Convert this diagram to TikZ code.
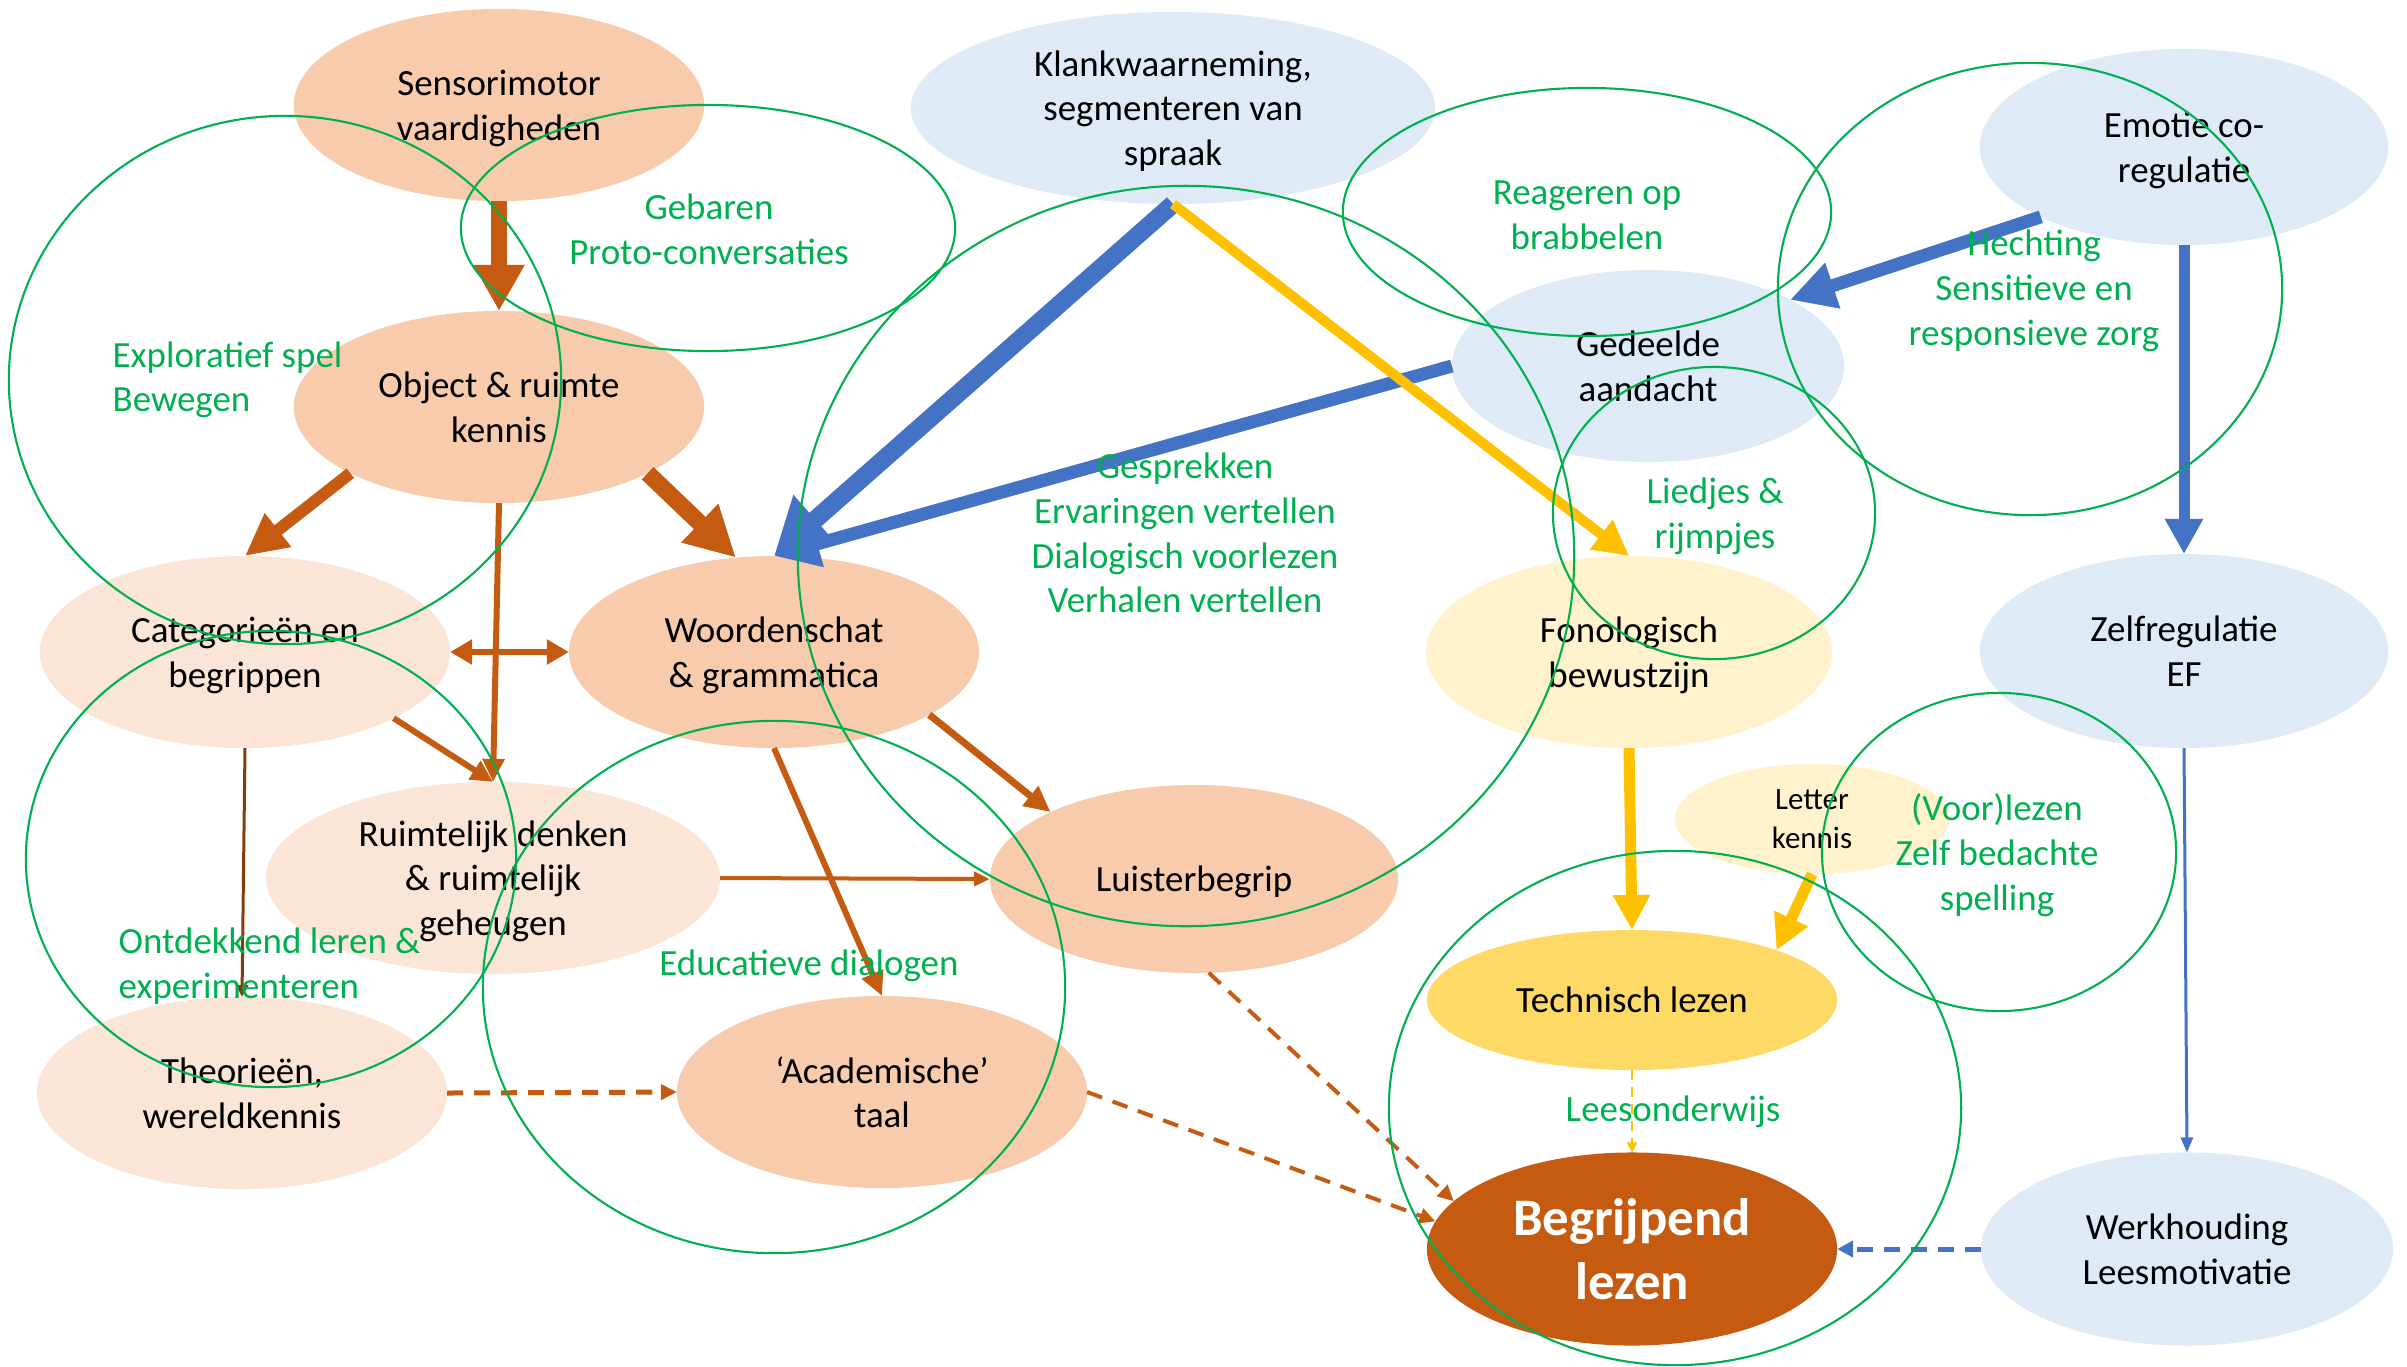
\documentclass[tikz,border=0pt]{standalone}
\usepackage{fontspec}
\setmainfont{Carlito}
\usetikzlibrary{shapes.geometric,arrows.meta}
\definecolor{peach}{HTML}{F8CBAD}
\definecolor{lpeach}{HTML}{FBE5D6}
\definecolor{lblue}{HTML}{DEEBF7}
\definecolor{lyel}{HTML}{FFF2CC}
\definecolor{yel}{HTML}{FFD966}
\definecolor{dorange}{HTML}{C55A11}
\definecolor{brownarr}{HTML}{843C0C}
\definecolor{bluearr}{HTML}{4472C4}
\definecolor{yelarr}{HTML}{FFC000}
\definecolor{grn}{HTML}{00B050}
\newcommand\nf{\fontsize{10.5}{12.7}\selectfont}
\tikzset{
  bub/.style={ellipse, inner sep=0pt, outer sep=0pt, align=center, font=\nf, draw=none, text depth=0pt},
  ring/.style={ellipse, draw=grn, line width=0.6pt, inner sep=0pt, outer sep=0pt},
  gtxt/.style={text=grn, font=\nf, align=center, inner sep=0pt},
  ar/.style n args={3}{line width=#1cm, -{Triangle[length=#2cm, width=#3cm]}},
  dashpat/.style={dash pattern=on 0.16cm off 0.11cm},
}
\begin{document}
\begin{tikzpicture}[x=0.01cm, y=-0.01cm]
\useasboundingbox (0,0) rectangle (2407,1366);
% filled bubbles
\node[bub, fill=peach, minimum width=4.10cm, minimum height=1.92cm] (sens) at (499,105) {Sensorimotor\\vaardigheden};
\node[bub, fill=peach, minimum width=4.10cm, minimum height=1.92cm] (obj) at (499,407) {Object \& ruimte\\kennis};
\node[bub, fill=lpeach, minimum width=4.10cm, minimum height=1.92cm] (cat) at (245,652) {Categorieën en\\begrippen};
\node[bub, fill=peach, minimum width=4.10cm, minimum height=1.92cm] (wood) at (774,652) {Woordenschat\\\& grammatica};
\node[bub, fill=lpeach, minimum width=4.54cm, minimum height=1.92cm] (ruim) at (493,878) {Ruimtelijk denken\\\& ruimtelijk\\geheugen};
\node[bub, fill=lpeach, minimum width=4.10cm, minimum height=1.92cm] (theo) at (242,1093) {Theorieën,\\wereldkennis};
\node[bub, fill=peach, minimum width=4.10cm, minimum height=1.92cm] (acad) at (882,1092) {‘Academische’\\taal};
\node[bub, fill=peach, minimum width=4.08cm, minimum height=1.88cm] (luis) at (1194,879) {Luisterbegrip};
\node[bub, fill=lblue, minimum width=5.24cm, minimum height=1.92cm] (klank) at (1173,108) {Klankwaarneming,\\segmenteren van\\spraak};
\node[bub, fill=lblue, minimum width=3.92cm, minimum height=1.92cm] (ged) at (1648,366) {Gedeelde\\aandacht};
\node[bub, fill=lblue, minimum width=4.08cm, minimum height=1.96cm] (emo) at (2184,147) {Emotie co-\\regulatie};
\node[bub, fill=lyel, minimum width=4.06cm, minimum height=1.92cm] (fono) at (1629,652) {Fonologisch\\bewustzijn};
\node[bub, fill=lblue, minimum width=4.08cm, minimum height=1.94cm] (zelf) at (2184,651) {Zelfregulatie\\EF};
\node[bub, fill=lyel, minimum width=2.74cm, minimum height=1.10cm, font=\fontsize{8.8}{10.9}\selectfont] (letter) at (1812,819) {Letter\\kennis};
\node[bub, fill=yel, minimum width=4.10cm, minimum height=1.40cm] (tech) at (1632,1000) {Technisch lezen};
\node[bub, fill=dorange, minimum width=4.10cm, minimum height=1.93cm, text=white, font=\fontsize{15}{18.2}\selectfont\bfseries] (begr) at (1632,1249) {Begrijpend\\lezen};
\node[bub, fill=lblue, minimum width=4.12cm, minimum height=1.93cm] (werk) at (2187,1249) {Werkhouding\\Leesmotivatie};
% arrows
\draw[ar={0.16}{0.46}{0.48}, dorange] (sens.south) -- (obj.north);
\draw[ar={0.12}{0.42}{0.40}, dorange] (obj.204) -- (cat.north);
\draw[ar={0.17}{0.50}{0.50}, dorange] (obj.336) -- (wood.112);
\draw[ar={0.06}{0.23}{0.21}, dorange] (obj.south) -- (ruim.north);
\draw[line width=0.06cm, dorange, {Triangle[length=0.22cm,width=0.24cm]}-{Triangle[length=0.22cm,width=0.24cm]}] (cat.east) -- (wood.west);
\draw[ar={0.06}{0.22}{0.21}, dorange] (cat.336) -- (ruim.north);
\draw[ar={0.03}{0.12}{0.12}, brownarr] (cat.south) -- (theo.north);
\draw[ar={0.04}{0.16}{0.14}, dorange] (ruim.east) -- (luis.west);
\draw[ar={0.06}{0.24}{0.22}, dorange] (wood.south) -- (acad.north);
\draw[ar={0.07}{0.26}{0.24}, dorange] (wood.338) -- (luis.155);
\draw[ar={0.05}{0.16}{0.15}, dorange, dashpat] (theo.east) -- (acad.west);
\draw[ar={0.04}{0.16}{0.15}, dorange, dashpat] (acad.east) -- (begr.172);
\draw[ar={0.04}{0.16}{0.15}, dorange, dashpat] (luis.279) -- (begr.165);
\draw[ar={0.18}{0.55}{0.62}, bluearr] (klank.south) -- (wood.north);
\draw[ar={0.13}{0.45}{0.45}, bluearr] (ged.west) -- (wood.north);
\draw[ar={0.10}{0.35}{0.35}, yelarr] (klank.south) -- (fono.north);
\draw[ar={0.13}{0.45}{0.45}, bluearr] (emo.206) -- (ged.25);
\draw[ar={0.11}{0.35}{0.36}, bluearr] (emo.south) -- (zelf.north);
\draw[ar={0.11}{0.35}{0.35}, yelarr] (fono.south) -- (tech.north);
\draw[ar={0.11}{0.35}{0.35}, yelarr] (letter.south) -- (tech.19);
\draw[ar={0.025}{0.10}{0.10}, yelarr, dash pattern=on 0.10cm off 0.07cm] (tech.south) -- (begr.north);
\draw[ar={0.03}{0.15}{0.12}, bluearr] (zelf.south) -- (werk.north);
\draw[ar={0.05}{0.16}{0.16}, bluearr, dashpat] (werk.west) -- (begr.east);
% green rings
\node[ring, minimum width=5.52cm, minimum height=5.28cm] (g1) at (285,380) {};
\node[ring, minimum width=4.94cm, minimum height=2.46cm] (g2) at (708,228) {};
\node[ring, minimum width=7.76cm, minimum height=7.40cm] (g3) at (1186,556) {};
\node[ring, minimum width=4.88cm, minimum height=2.48cm] (g4) at (1587,212) {};
\node[ring, minimum width=5.04cm, minimum height=4.52cm] (g5) at (2030,289) {};
\node[ring, minimum width=3.22cm, minimum height=2.92cm] (g6) at (1714,513) {};
\node[ring, minimum width=4.90cm, minimum height=4.56cm] (g7) at (271,859) {};
\node[ring, minimum width=5.82cm, minimum height=5.32cm] (g8) at (774,987) {};
\node[ring, minimum width=5.72cm, minimum height=5.14cm] (g9) at (1675,1108) {};
\node[ring, minimum width=3.54cm, minimum height=3.18cm] (g10) at (1999,852) {};
% green texts
\node[gtxt] (t1) at (709,229) {Gebaren\\Proto-conversaties};
\node[gtxt, anchor=west, align=left] (t2) at (112,380) {Exploratief spel\\Bewegen};
\node[gtxt] (t3) at (1587,215) {Reageren op\\brabbelen};
\node[gtxt] (t4) at (2034,291) {Hechting\\Sensitieve en\\responsieve zorg};
\node[gtxt] (t5) at (1185,533) {Gesprekken\\Ervaringen vertellen\\Dialogisch voorlezen\\Verhalen vertellen};
\node[gtxt] (t6) at (1715,516) {Liedjes \&\\rijmpjes};
\node[gtxt, anchor=west, align=left] (t7) at (118,966) {Ontdekkend leren \&\\experimenteren};
\node[gtxt] (t8) at (809,966) {Educatieve dialogen};
\node[gtxt] (t9) at (1673,1112) {Leesonderwijs};
\node[gtxt] (t10) at (1997,855) {(Voor)lezen\\Zelf bedachte\\spelling};
\end{tikzpicture}
\end{document}
